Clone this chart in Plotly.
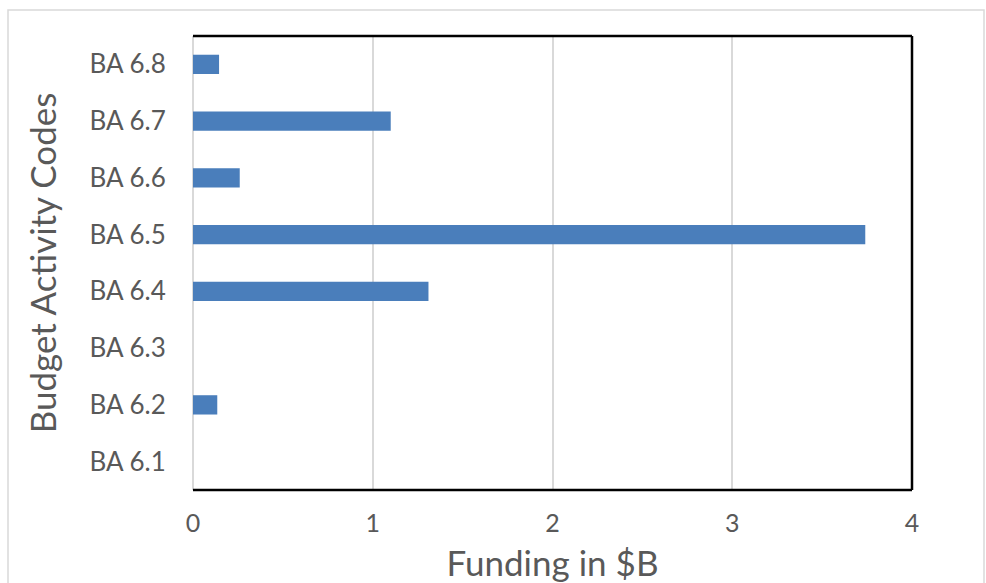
import plotly.graph_objects as go

categories = ["BA 6.1", "BA 6.2", "BA 6.3", "BA 6.4", "BA 6.5", "BA 6.6", "BA 6.7", "BA 6.8"]
funding = [0, 0.135, 0, 1.31, 3.74, 0.26, 1.10, 0.145]
x_ticks = [0, 1, 2, 3, 4]

W, H = 986, 583
L, R, T, B = 193, 74, 36, 93
pw, ph = W - L - R, H - T - B

FONT = "Lato"
GRAY = "#595959"

fig = go.Figure(go.Bar(
    x=funding, y=categories, orientation="h",
    marker=dict(color="#4a7ebb", line=dict(width=0)),
))

fig.update_layout(
    width=W, height=H,
    margin=dict(l=L, r=R, t=T, b=B),
    paper_bgcolor="white", plot_bgcolor="white",
    bargap=0.66,
    showlegend=False,
    font=dict(family=FONT, color=GRAY),
    xaxis=dict(
        range=[0, 4], tickvals=x_ticks, ticktext=[str(v) for v in x_ticks],
        showgrid=True, gridcolor="#d9d9d9", gridwidth=1.5,
        zeroline=True, zerolinecolor="#d9d9d9", zerolinewidth=1.5,
        showline=False, automargin=False,
        tickfont=dict(size=25, color=GRAY, family=FONT),
        ticks="outside", ticklen=11, tickcolor="rgba(0,0,0,0)",
        title=dict(text="Funding in $B", font=dict(size=35, color=GRAY, family=FONT)),
        fixedrange=True,
    ),
    yaxis=dict(
        categoryorder="array", categoryarray=categories,
        showgrid=False, zeroline=False, showline=False,
        tickfont=dict(size=26, color=GRAY, family=FONT),
        ticks="outside", ticklen=21, tickcolor="rgba(0,0,0,0)",
        title=dict(text="Budget Activity Codes", font=dict(size=35, color=GRAY, family=FONT), standoff=22),
        fixedrange=True,
    ),
    shapes=[
        # outer light border
        dict(type="rect", xref="paper", yref="paper",
             x0=(8 - L) / pw, x1=(984 - L) / pw,
             y0=(H - B - 590) / ph, y1=(H - B - 10) / ph,
             line=dict(color="#d9d9d9", width=1.5), layer="below"),
        # black lines: top, right, bottom
        dict(type="line", xref="paper", yref="paper", x0=0, x1=1, y0=1, y1=1,
             line=dict(color="black", width=2.5)),
        dict(type="line", xref="paper", yref="paper", x0=1, x1=1, y0=0, y1=1,
             line=dict(color="black", width=2.5)),
        dict(type="line", xref="paper", yref="paper", x0=0, x1=1, y0=0, y1=0,
             line=dict(color="black", width=2.5)),
    ],
)

fig.write_html("out.html", config={"displayModeBar": False})
